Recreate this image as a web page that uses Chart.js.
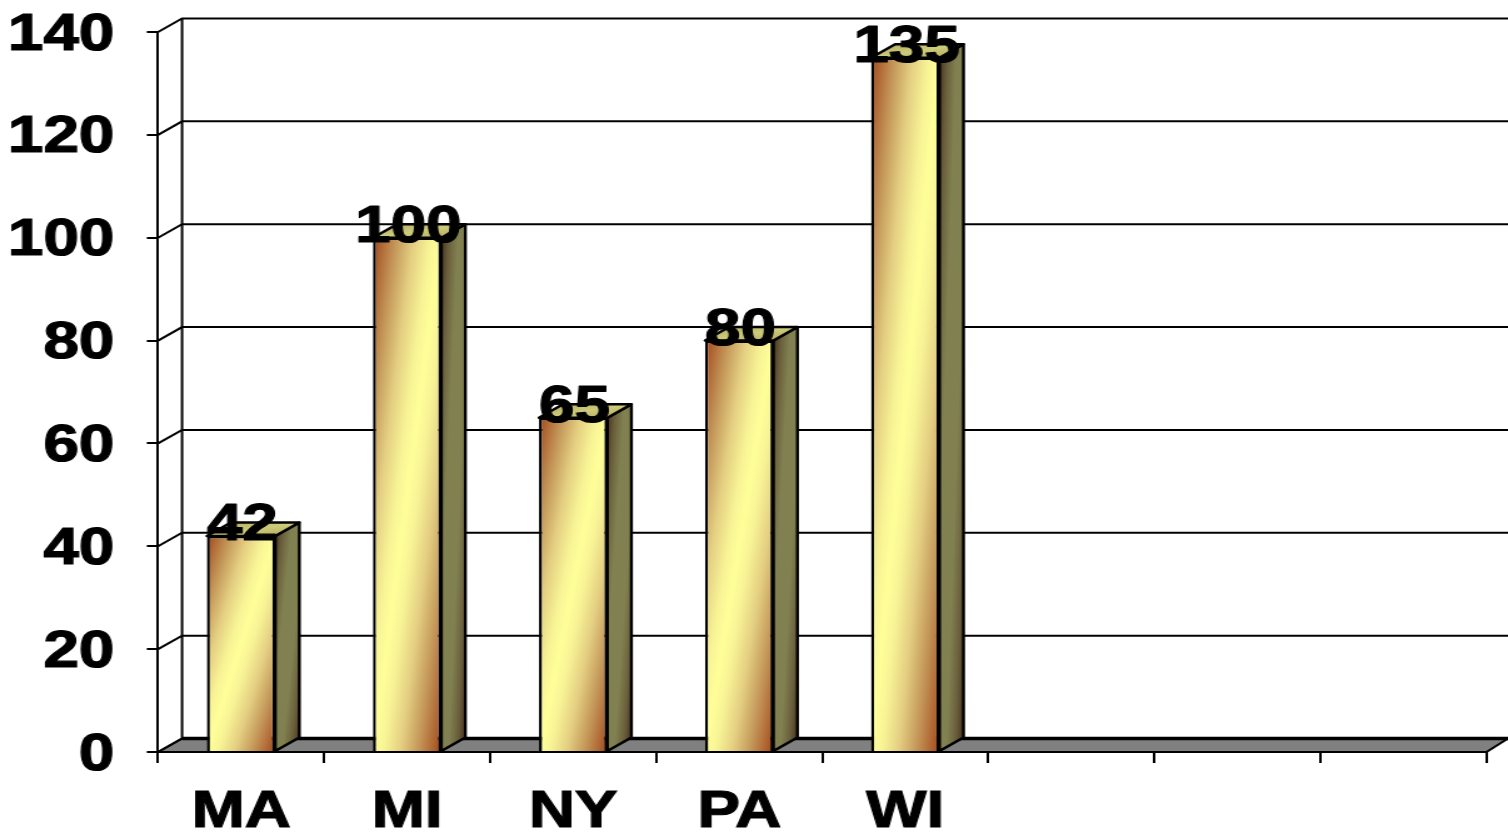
<!DOCTYPE html>
<html>
<head>
<meta charset="utf-8">
<title>Bars by state</title>
<script src="https://cdn.jsdelivr.net/npm/chart.js@4/dist/chart.umd.min.js"></script>
<style>
  html, body { margin: 0; padding: 0; background: #fff; overflow: hidden; }
  /* the whole drawing is wide-stretched, type included */
  #bars { display: block; transform-origin: 0 0; transform: scaleX(1.2504); }
</style>
</head>
<body>
<canvas id="bars" width="1206" height="833"></canvas>
<script>
const states = ['MA', 'MI', 'NY', 'PA', 'WI', '', '', ''];
const counts = [42, 100, 65, 80, 135, null, null, null];
const yTicks = [0, 20, 40, 60, 80, 100, 120, 140];

const FONT_FAMILY = '"Liberation Sans", Arial, sans-serif';
const FONT_SIZE = 51;
const DEPTH_X = 19.2;
const DEPTH_Y = 13.5;
const BAR_SHARE = 0.412;
const LINE = 2.4;

const frontStops = [[0, '#a3461a'], [0.17, '#c4985a'], [0.3, '#e4cf82'], [0.42, '#f8f496'],
  [0.5, '#ffff99'], [0.58, '#f8f496'], [0.7, '#e4cf82'], [0.83, '#c4985a'], [1, '#a3461a']];
const sideStops = [[0, '#452f1c'], [0.17, '#6a5f3c'], [0.35, '#808050'],
  [0.65, '#808050'], [0.83, '#6a5f3c'], [1, '#452f1c']];
const topStops = [[0, '#b3a25c'], [0.5, '#cccc7a'], [1, '#b3a25c']];

// isolines run along the anti-diagonal of the box, so both far corners get the edge colour
function cornerGradient(ctx, x0, y0, x1, y1, stops) {
  const w = x1 - x0, h = y1 - y0;
  const cx = (x0 + x1) / 2, cy = (y0 + y1) / 2;
  const k = (w * h) / (w * w + h * h);
  const g = ctx.createLinearGradient(cx - h * k, cy - w * k, cx + h * k, cy + w * k);
  stops.forEach(s => g.addColorStop(s[0], s[1]));
  return g;
}

function polygon(ctx, pts, fill) {
  ctx.beginPath();
  pts.forEach((p, i) => i ? ctx.lineTo(p[0], p[1]) : ctx.moveTo(p[0], p[1]));
  ctx.closePath();
  ctx.fillStyle = fill;
  ctx.fill();
  ctx.stroke();
}

function barFront(c) {
  const { x, y } = c.chart.scales;
  const v = counts[c.dataIndex];
  if (v === null || !x || !y) return 'transparent';
  const half = x.width / states.length * BAR_SHARE / 2;
  const cx = x.getPixelForValue(c.dataIndex);
  const top = y.getPixelForValue(v), base = y.getPixelForValue(0);
  // scales have no pixels yet on the first options pass
  if (![half, cx, top, base].every(Number.isFinite)) return '#ffff99';
  return cornerGradient(c.chart.ctx, cx - half, top, cx + half, base, frontStops);
}

// floor, back wall and the receding gridlines
const room = {
  id: 'room',
  beforeDatasetsDraw(chart) {
    const { ctx, scales: { x, y } } = chart;
    const left = x.left, right = x.right, base = y.getPixelForValue(0);
    ctx.save();
    ctx.strokeStyle = '#000';
    ctx.lineWidth = 2;
    polygon(ctx, [[left, base], [left + DEPTH_X, base - DEPTH_Y], [chart.width, base - DEPTH_Y], [right, base]], '#808080');
    ctx.beginPath();
    ctx.lineWidth = 3.5;
    ctx.moveTo(left + DEPTH_X, base - DEPTH_Y);
    ctx.lineTo(chart.width, base - DEPTH_Y);
    ctx.stroke();
    ctx.lineWidth = 2;
    yTicks.forEach(t => {
      const py = y.getPixelForValue(t);
      ctx.beginPath();
      ctx.moveTo(left, py);
      ctx.lineTo(left + DEPTH_X, py - DEPTH_Y);
      if (t > 0) ctx.lineTo(chart.width, py - DEPTH_Y);
      ctx.stroke();
    });
    ctx.beginPath();
    ctx.moveTo(left + DEPTH_X, y.getPixelForValue(140) - DEPTH_Y);
    ctx.lineTo(left + DEPTH_X, base - DEPTH_Y);
    ctx.stroke();
    ctx.restore();
  },
  // side and top faces of each bar, then the value on top
  afterDatasetsDraw(chart) {
    const { ctx } = chart;
    const bars = chart.getDatasetMeta(0).data;
    ctx.save();
    ctx.strokeStyle = '#000';
    ctx.lineWidth = LINE;
    ctx.lineJoin = 'round';
    bars.forEach((bar, i) => {
      if (counts[i] === null) return;
      const half = bar.width / 2;
      const l = bar.x - half, r = bar.x + half, top = bar.y, base = bar.base;
      polygon(ctx, [[r, top], [r + DEPTH_X, top - DEPTH_Y], [r + DEPTH_X, base - DEPTH_Y], [r, base]],
        cornerGradient(ctx, r, top - DEPTH_Y, r + DEPTH_X, base, sideStops));
      polygon(ctx, [[l, top], [l + DEPTH_X, top - DEPTH_Y], [r + DEPTH_X, top - DEPTH_Y], [r, top]],
        cornerGradient(ctx, l, top - DEPTH_Y, r + DEPTH_X, top, topStops));
    });
    ctx.fillStyle = '#000';
    ctx.lineWidth = 1.2;
    ctx.font = 'bold ' + FONT_SIZE + 'px ' + FONT_FAMILY;
    ctx.textAlign = 'center';
    ctx.textBaseline = 'middle';
    bars.forEach((bar, i) => {
      if (counts[i] === null) return;
      ctx.fillText(String(counts[i]), bar.x + 1, bar.y - 10);
      ctx.strokeText(String(counts[i]), bar.x + 1, bar.y - 10);
    });
    ctx.restore();
  }
};

new Chart(document.getElementById('bars'), {
  type: 'bar',
  data: {
    labels: states,
    datasets: [{
      data: counts,
      backgroundColor: barFront,
      borderColor: '#000',
      borderWidth: LINE,
      barPercentage: BAR_SHARE,
      categoryPercentage: 1
    }]
  },
  options: {
    responsive: false,
    animation: false,
    events: [],
    layout: { padding: { top: 32, right: 17.2, left: 0, bottom: 0 } },
    plugins: { legend: { display: false }, tooltip: { enabled: false } },
    scales: {
      x: {
        offset: true,
        afterFit(scale) { scale.height = 81; },
        grid: { offset: true, drawOnChartArea: false, color: '#000', lineWidth: 2, tickLength: 11 },
        border: { color: '#000', width: 2 },
        ticks: {
          autoSkip: false,
          maxRotation: 0,
          padding: 19,
          color: '#000',
          textStrokeColor: '#000',
          textStrokeWidth: 1.2,
          font: { family: FONT_FAMILY, size: FONT_SIZE, weight: 'bold' }
        }
      },
      y: {
        min: 0,
        max: 140,
        afterFit(scale) {
          scale.width = 126.4;
          // the top label may overhang the plot, it must not push the plot down
          scale.paddingTop = 0;
          scale.paddingBottom = 0;
        },
        afterBuildTicks(scale) { scale.ticks = yTicks.map(v => ({ value: v })); },
        grid: { drawOnChartArea: false, color: '#000', lineWidth: 2, tickLength: 9 },
        border: { color: '#000', width: 2 },
        ticks: {
          padding: 26,
          labelOffset: 3.5,
          color: '#000',
          textStrokeColor: '#000',
          textStrokeWidth: 1.2,
          font: { family: FONT_FAMILY, size: FONT_SIZE, weight: 'bold' }
        }
      }
    }
  },
  plugins: [room]
});
</script>
</body>
</html>
